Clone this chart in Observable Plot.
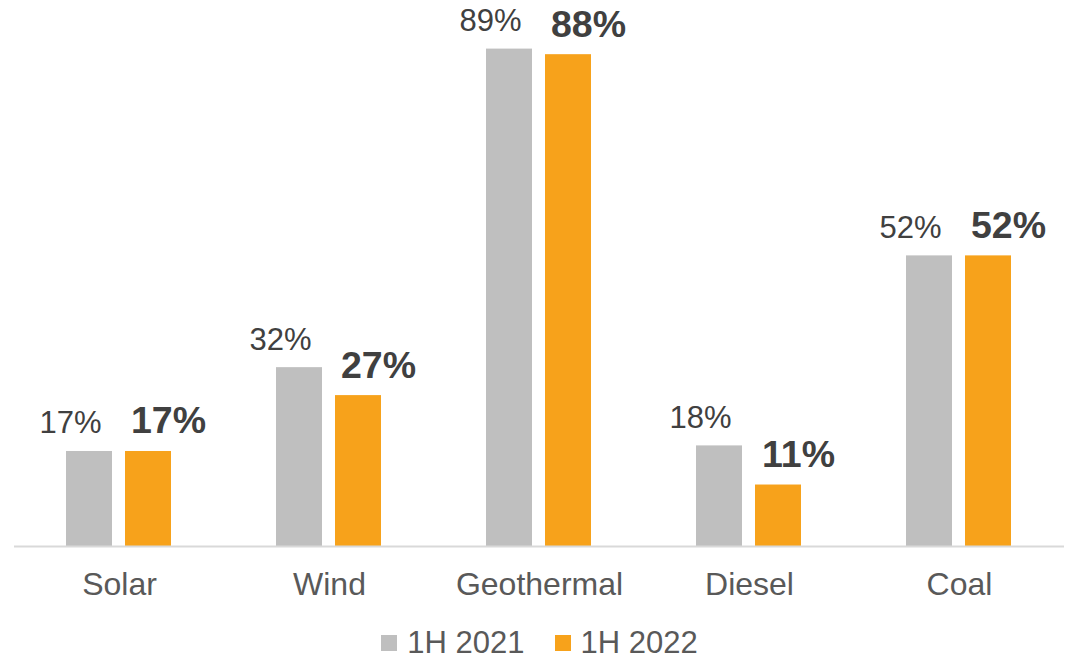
<!DOCTYPE html>
<html>
<head>
<meta charset="utf-8">
<script src="https://cdn.jsdelivr.net/npm/d3@7"></script>
<script src="https://cdn.jsdelivr.net/npm/@observablehq/plot@0.6"></script>
<style>
  html, body { margin: 0; padding: 0; background: #fff; }
  body { width: 1079px; height: 658px; overflow: hidden; font-family: "Liberation Sans", Arial, sans-serif; }
  #chart svg { display: block; }
  #legend { display: flex; justify-content: center; align-items: center; height: 46px; margin-top: 8px; font-size: 31px; color: #595959; padding-left: 0px; }
  .item { display: flex; align-items: center; margin: 0 15px; }
  .sw { width: 16px; height: 16px; margin-right: 10px; }
</style>
</head>
<body>
<div id="chart"></div>
<div id="legend"></div>
<script>
const categories = ["Solar", "Wind", "Geothermal", "Diesel", "Coal"];
const seriesNames = ["1H 2021", "1H 2022"];
const values2021 = [17, 32, 89, 18, 52];
const values2022 = [17, 27, 88, 11, 52];
const colors = ["#BFBFBF", "#F7A21B"];

const data = [];
categories.forEach((c, i) => {
  data.push({cat: c, series: seriesNames[0], value: values2021[i]});
  data.push({cat: c, series: seriesNames[1], value: values2022[i]});
});

const chart = Plot.plot({
  width: 1079,
  height: 612,
  marginLeft: 13,
  marginRight: 14,
  marginTop: 43,
  marginBottom: 66,
  style: {fontFamily: "'Liberation Sans', Arial, sans-serif", fontSize: "30px", background: "#fff"},
  fx: {domain: categories, paddingInner: 0, paddingOuter: 0, label: null},
  x: {domain: seriesNames, paddingInner: 0.2167, paddingOuter: 0.8617, axis: null},
  y: {domain: [0, 90], axis: null},
  color: {domain: seriesNames, range: colors},
  marks: [
    Plot.axisFx({anchor: "bottom", tickSize: 0, tickPadding: 26, fontSize: 32, fill: "#595959", label: null}),
    Plot.barY(data, {fx: "cat", x: "series", y: "value", fill: "series"}),
    Plot.ruleY([0], {stroke: "#D9D9D9", strokeWidth: 2}),
    Plot.text(data.filter(d => d.series === seriesNames[0]), {
      fx: "cat", x: "series", y: "value", text: d => d.value + "%",
      lineAnchor: "bottom", dy: -18, dx: -19, fill: "#404040", fontSize: 31
    }),
    Plot.text(data.filter(d => d.series === seriesNames[1]), {
      fx: "cat", x: "series", y: "value", text: d => d.value + "%",
      lineAnchor: "bottom", dy: -18, dx: 20, fill: "#404040", fontSize: 37.5, fontWeight: "bold"
    })
  ]
});
document.getElementById("chart").appendChild(chart);

const legend = document.getElementById("legend");
seriesNames.forEach((s, i) => {
  const item = document.createElement("div");
  item.className = "item";
  const sw = document.createElement("div");
  sw.className = "sw";
  sw.style.background = colors[i];
  const t = document.createElement("span");
  t.textContent = s;
  item.appendChild(sw);
  item.appendChild(t);
  legend.appendChild(item);
});
</script>
</body>
</html>
